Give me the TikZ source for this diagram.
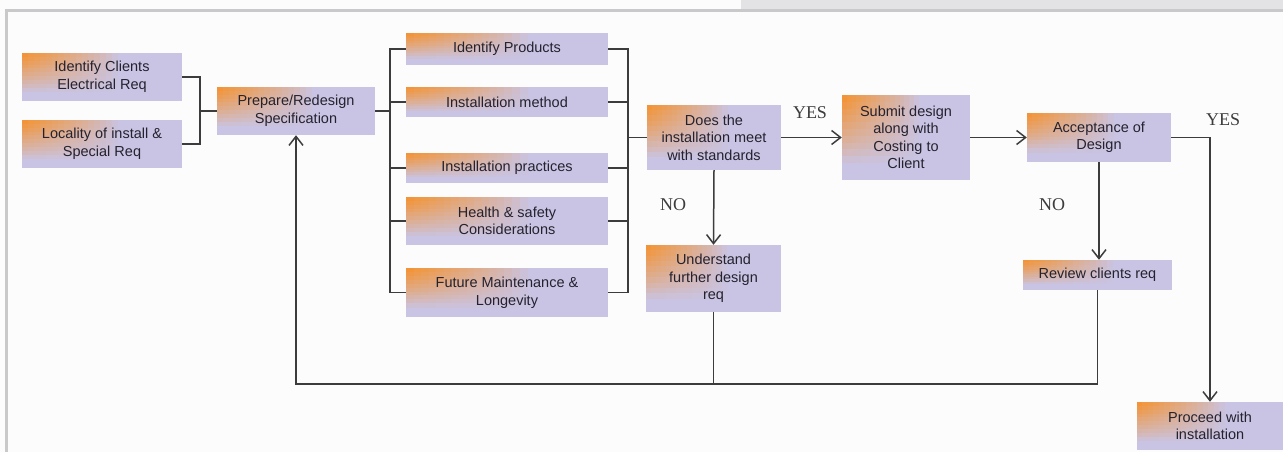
\documentclass[tikz,border=0pt]{standalone}
\usepackage{fontspec}
\setmainfont{Liberation Sans}
\newfontfamily\labfont{Liberation Serif}
\usetikzlibrary{arrows.meta,calc}
\definecolor{boxlav}{HTML}{C9C4E3}
\definecolor{boxorange}{HTML}{F5922E}
\definecolor{linec}{HTML}{3C3C3C}
\definecolor{textc}{HTML}{24222F}
\definecolor{framec}{HTML}{C9C9CB}
\definecolor{bandc}{HTML}{E3E3E5}
\tikzset{
  box/.style={fill=boxlav, inner sep=0pt, align=center, text=textc,
    font=\fontsize{14.5}{17.5}\selectfont,
    path picture={
      \path let \p1=(path picture bounding box.north west), \p2=(path picture bounding box.south east) in
        \pgfextra{\xdef\bxa{\x1}\xdef\bya{\y1}\xdef\bxb{\x2}\xdef\byb{\y2}};
      \foreach \i in {0,...,15} {
        \foreach \j in {0,...,9} {
          \pgfmathsetmacro\wgt{100*((1-(\i+0.5)/16)*(1-(\j+0.5)/10))^0.8}
          \fill[boxorange!\wgt!boxlav]
            ({\bxa+\i/16*0.6*(\bxb-\bxa)},{\bya+\j/10*0.8*(\byb-\bya)})
            rectangle ++({0.6*(\bxb-\bxa)/16+0.4pt},{0.8*(\byb-\bya)/10-0.4pt});
        }
      }}},
  conn/.style={draw=linec, line width=1.5pt},
  arr/.style={conn, -{Straight Barb[length=9pt,width=14pt,line width=1.5pt]}},
  lab/.style={font=\labfont\fontsize{18}{20}\selectfont, text=linec, inner sep=0pt}
}
\begin{document}
\begin{tikzpicture}[x=1pt,y=-1pt]
\useasboundingbox (0,0) rectangle (1283,452);
\fill[white!98.8!black] (0,0) rectangle (1283,452);
\fill[bandc] (741,0) rectangle (1283,9);
\draw[framec, line width=3pt] (6,452) -- (6,10.5) -- (1283,10.5);

\node[box, minimum width=160pt, minimum height=48pt] (c1) at (102,77) {Identify Clients\\Electrical Req};
\node[box, minimum width=160pt, minimum height=48pt] (c2) at (102,144) {Locality of install \&\\Special Req};
\node[box, minimum width=158pt, minimum height=48pt] (prep) at (296,111) {Prepare/Redesign\\Specification};
\node[box, minimum width=202pt, minimum height=32pt] (p1) at (507,49) {Identify Products};
\node[box, minimum width=202pt, minimum height=30pt] (p2) at (507,102) {Installation method};
\node[box, minimum width=202pt, minimum height=30pt] (p3) at (507,168) {Installation practices};
\node[box, minimum width=202pt, minimum height=48pt] (p4) at (507,221) {Health \& safety\\Considerations};
\node[box, minimum width=202pt, minimum height=49pt] (p5) at (507,292.5) {Future Maintenance \&\\Longevity};
\node[box, minimum width=134pt, minimum height=65pt] (does) at (714,137.5) {Does the\\installation meet\\with standards};
\node[box, minimum width=128pt, minimum height=85pt] (submit) at (906,137.5) {Submit design\\along with\\Costing to\\Client};
\node[box, minimum width=144pt, minimum height=49pt] (accept) at (1099,137.5) {Acceptance of\\Design};
\node[box, minimum width=149pt, minimum height=30pt] (review) at (1097.5,275) {Review clients req};
\node[box, minimum width=135pt, minimum height=67pt] (underst) at (713.5,278.5) {Understand\\further design\\req};
\node[box, minimum width=146pt, minimum height=48pt] (proceed) at (1210,426) {Proceed with\\installation};

\coordinate (lb) at (200,111);
\coordinate (rb) at (390,111);
\coordinate (rc) at (628,137.5);
\coordinate (fb) at (296,384);

\draw[conn] (c1.east) -| (lb);
\draw[conn] (c2.east) -| (lb);
\draw[conn] (lb) -- (prep.west);
\draw[conn] (prep.east) -- (rb);
\foreach \n in {p1,p2,p3,p4,p5} {
  \draw[conn] (\n.west) -| (rb);
  \draw[conn] (\n.east) -| (rc);
}
\draw[conn] (rc) -- (does.west);
\draw[arr] (does.east) -- (submit.west);
\draw[arr] (submit.east) -- (accept.west);
\draw[arr] (does.south) -- (underst.north);
\draw[arr] (accept.south) -- (accept.south |- review.north);
\draw[arr] (accept.east) -| (proceed.north);
\draw[arr] (review.south) |- (fb) -- (prep.south);
\draw[conn] (underst.south) -- (underst.south |- fb);

\node[lab] (yes1) at (810,113) {YES};
\node[lab] (no1) at (673,205) {NO};
\node[lab] (no2) at (1052,205) {NO};
\node[lab] (yes2) at (1223,120) {YES};
\end{tikzpicture}
\end{document}
